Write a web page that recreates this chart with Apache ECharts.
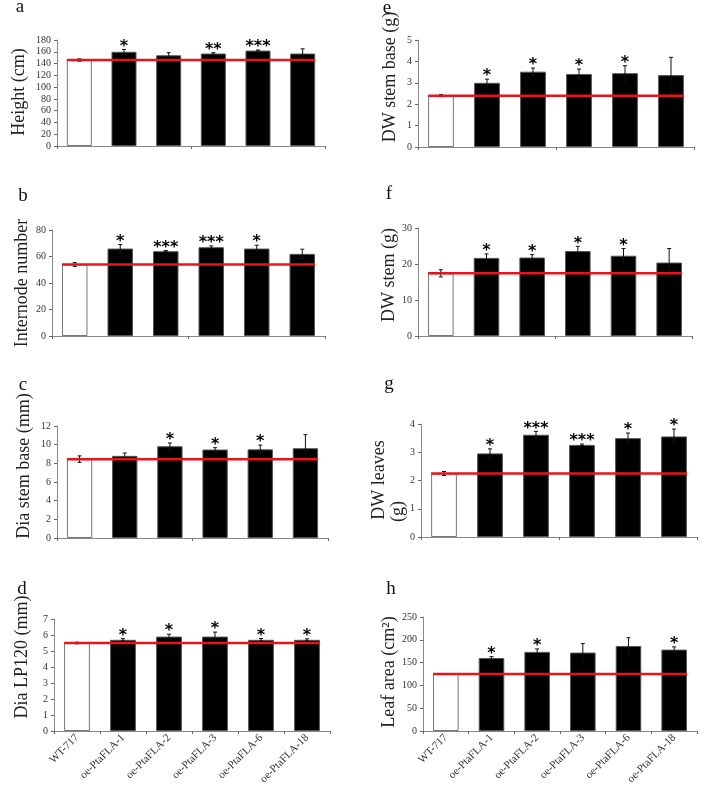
<!DOCTYPE html>
<html>
<head>
<meta charset="utf-8">
<script src="https://cdn.jsdelivr.net/npm/echarts@6/dist/echarts.min.js"></script>
<style>
  html, body { margin: 0; padding: 0; background: #fff; }
  #chart { width: 708px; height: 794px; }
</style>
</head>
<body>
<div id="chart"></div>
<script>
const categories = ['WT-717', 'oe-PtaFLA-1', 'oe-PtaFLA-2', 'oe-PtaFLA-3', 'oe-PtaFLA-6', 'oe-PtaFLA-18']

// a - height
const heightMean = [146, 160, 154, 157, 162, 157]
const heightErr = [2, 4, 4.5, 1.5, 1, 8]
const heightStars = ['', '*', '', '**', '***', '']

// b - internode number
const internodeMean = [54, 66, 64, 67, 66, 62]
const internodeErr = [1.5, 3, 0.5, 1, 2.5, 3.5]
const internodeStars = ['', '*', '***', '***', '*', '']

// c - diameter stem base
const diaBaseMean = [8.45, 8.8, 9.83, 9.48, 9.5, 9.62]
const diaBaseErr = [0.35, 0.3, 0.35, 0.2, 0.45, 1.45]
const diaBaseStars = ['', '', '*', '*', '*', '']

// d - diameter LP120
const diaLpMean = [5.5, 5.7, 5.9, 5.9, 5.7, 5.7]
const diaLpErr = [0.05, 0.07, 0.15, 0.28, 0.08, 0.06]
const diaLpStars = ['', '*', '*', '*', '*', '*']

// e - DW stem base
const dwBaseMean = [2.4, 3.0, 3.52, 3.41, 3.45, 3.36]
const dwBaseErr = [0.05, 0.17, 0.17, 0.23, 0.35, 0.83]
const dwBaseStars = ['', '*', '*', '*', '*', '']

// f - DW stem
const dwStemMean = [17.4, 21.7, 21.8, 23.6, 22.3, 20.4]
const dwStemErr = [1, 1.1, 0.8, 1.3, 2, 3.9]
const dwStemStars = ['', '*', '*', '*', '*', '']

// g - DW leaves
const dwLeavesMean = [2.25, 2.96, 3.62, 3.26, 3.5, 3.56]
const dwLeavesErr = [0.07, 0.16, 0.12, 0.03, 0.18, 0.26]
const dwLeavesStars = ['', '*', '***', '***', '*', '*']

// h - leaf area
const leafAreaMean = [125, 160, 173.5, 172, 186.5, 178.5]
const leafAreaErr = [0, 3, 6.5, 19.7, 18, 6]
const leafAreaStars = ['', '*', '*', '', '', '*']

const serif = '"Liberation Serif", "DejaVu Serif", serif'

// box = [left, top, width, height], title = [x, y] centre of the y label
const panels = [
  { letter: 'a', at: [20, 7], name: 'Height (cm)', title: [19, 92], mean: heightMean, err: heightErr, stars: heightStars, max: 180, step: 20, box: [57, 40, 268, 106] },
  { letter: 'b', at: [23, 196], name: 'Internode number', title: [22, 283], mean: internodeMean, err: internodeErr, stars: internodeStars, max: 80, step: 20, box: [52, 230, 273, 106] },
  { letter: 'c', at: [23, 385], name: 'Dia stem base (mm)', title: [24, 466], mean: diaBaseMean, err: diaBaseErr, stars: diaBaseStars, max: 12, step: 2, box: [57, 426, 271, 112] },
  { letter: 'd', at: [22, 589], name: 'Dia LP120 (mm)', title: [22, 657], mean: diaLpMean, err: diaLpErr, stars: diaLpStars, max: 7, step: 1, box: [54, 619, 276, 112], labels: true },
  { letter: 'e', at: [387, 8], name: 'DW stem base (g)', title: [390, 77], mean: dwBaseMean, err: dwBaseErr, stars: dwBaseStars, max: 5, step: 1, box: [418, 40, 276, 107] },
  { letter: 'f', at: [389, 194], name: 'DW stem (g)', title: [389, 275], mean: dwStemMean, err: dwStemErr, stars: dwStemStars, max: 30, step: 10, box: [418, 228, 274, 108] },
  { letter: 'g', at: [389, 384], name: 'DW leaves', title: [379, 480], mean: dwLeavesMean, err: dwLeavesErr, stars: dwLeavesStars, max: 4, step: 1, box: [421, 424, 276, 113] },
  { letter: 'h', at: [391, 589], name: 'Leaf area (cm²)', title: [389, 672], mean: leafAreaMean, err: leafAreaErr, stars: leafAreaStars, max: 250, step: 50, box: [423, 617, 274, 114], labels: true }
]

const BAR_FRAC = 0.56

function renderError(stars) {
  return function (params, api) {
    const i = api.value(0)
    const m = api.value(1)
    const e = api.value(2)
    const top = api.coord([i, m + e])
    const bot = api.coord([i, m - e])
    const line = { stroke: '#111', lineWidth: 1 }
    const children = []
    if (e > 0) {
      children.push(
        { type: 'line', shape: { x1: top[0], y1: top[1], x2: bot[0], y2: bot[1] }, style: line },
        { type: 'line', shape: { x1: top[0] - 2, y1: top[1], x2: top[0] + 2, y2: top[1] }, style: line },
        { type: 'line', shape: { x1: bot[0] - 2, y1: bot[1], x2: bot[0] + 2, y2: bot[1] }, style: line }
      )
    }
    const s = stars[params.dataIndex]
    if (s) {
      children.push({
        type: 'text', x: top[0], y: top[1] - 3,
        style: { text: s, fill: '#000', font: 'bold 16px "DejaVu Sans"', align: 'center', verticalAlign: 'middle' }
      })
    }
    return { type: 'group', children }
  }
}

// red control line, from left edge of first bar to right edge of last bar
function renderBaseline(params, api) {
  const v = api.value(1)
  const first = api.coord([0, v])
  const last = api.coord([categories.length - 1, v])
  const half = api.size([1, 0])[0] * BAR_FRAC / 2
  return {
    type: 'line',
    shape: { x1: first[0] - half, y1: first[1], x2: last[0] + half, y2: last[1] },
    style: { stroke: '#e8141c', lineWidth: 2.5 }
  }
}

const grid = []
const xAxis = []
const yAxis = []
const series = []
const graphic = []

panels.forEach((p, k) => {
  grid.push({ left: p.box[0], top: p.box[1], width: p.box[2], height: p.box[3] })
  xAxis.push({
    type: 'category', gridIndex: k, data: categories,
    axisLine: { lineStyle: { color: '#888', width: 1 } },
    axisTick: { show: true, length: 3, lineStyle: { color: '#666' } },
    axisLabel: p.labels
      ? { show: true, rotate: 45, interval: 0, margin: 5, fontFamily: serif, fontSize: 11, color: '#333' }
      : { show: false }
  })
  yAxis.push({
    type: 'value', gridIndex: k, min: 0, max: p.max, interval: p.step,
    splitLine: { show: false },
    axisLine: { show: true, lineStyle: { color: '#888', width: 1 } },
    axisTick: { show: true, length: 3, lineStyle: { color: '#666' } },
    axisLabel: { margin: 6, fontFamily: serif, fontSize: 10, color: '#333' }
  })
  series.push({
    type: 'bar', xAxisIndex: k, yAxisIndex: k, barWidth: (BAR_FRAC * 100) + '%', z: 2,
    data: p.mean.map((v, i) => ({
      value: v,
      itemStyle: i === 0
        ? { color: '#fff', borderColor: '#777', borderWidth: 1 }
        : { color: '#000', borderColor: '#555', borderWidth: 1 }
    }))
  })
  series.push({
    type: 'custom', xAxisIndex: k, yAxisIndex: k, z: 4,
    renderItem: renderError(p.stars),
    encode: { x: 0, y: 1 },
    data: p.mean.map((v, i) => [i, v, p.err[i]])
  })
  series.push({
    type: 'custom', xAxisIndex: k, yAxisIndex: k, z: 5,
    renderItem: renderBaseline,
    encode: { x: 0, y: 1 },
    data: [[0, p.mean[0]]]
  })
  graphic.push({
    type: 'text', x: p.at[0], y: p.at[1],
    style: { text: p.letter, font: '19px ' + serif, fill: '#111', align: 'center', verticalAlign: 'middle' }
  })
  graphic.push({
    type: 'text', x: p.title[0], y: p.title[1], rotation: Math.PI / 2,
    style: { text: p.name, font: '18px ' + serif, fill: '#222', align: 'center', verticalAlign: 'middle' }
  })
})

// second line of the "DW leaves (g)" label
graphic.push({
  type: 'text', x: 398, y: 522, rotation: Math.PI / 2,
  style: { text: '(g)', font: '18px ' + serif, fill: '#222', align: 'left', verticalAlign: 'middle' }
})

const chart = echarts.init(document.getElementById('chart'))
chart.setOption({
  animation: false,
  backgroundColor: '#fff',
  grid, xAxis, yAxis, series, graphic
})
</script>
</body>
</html>
